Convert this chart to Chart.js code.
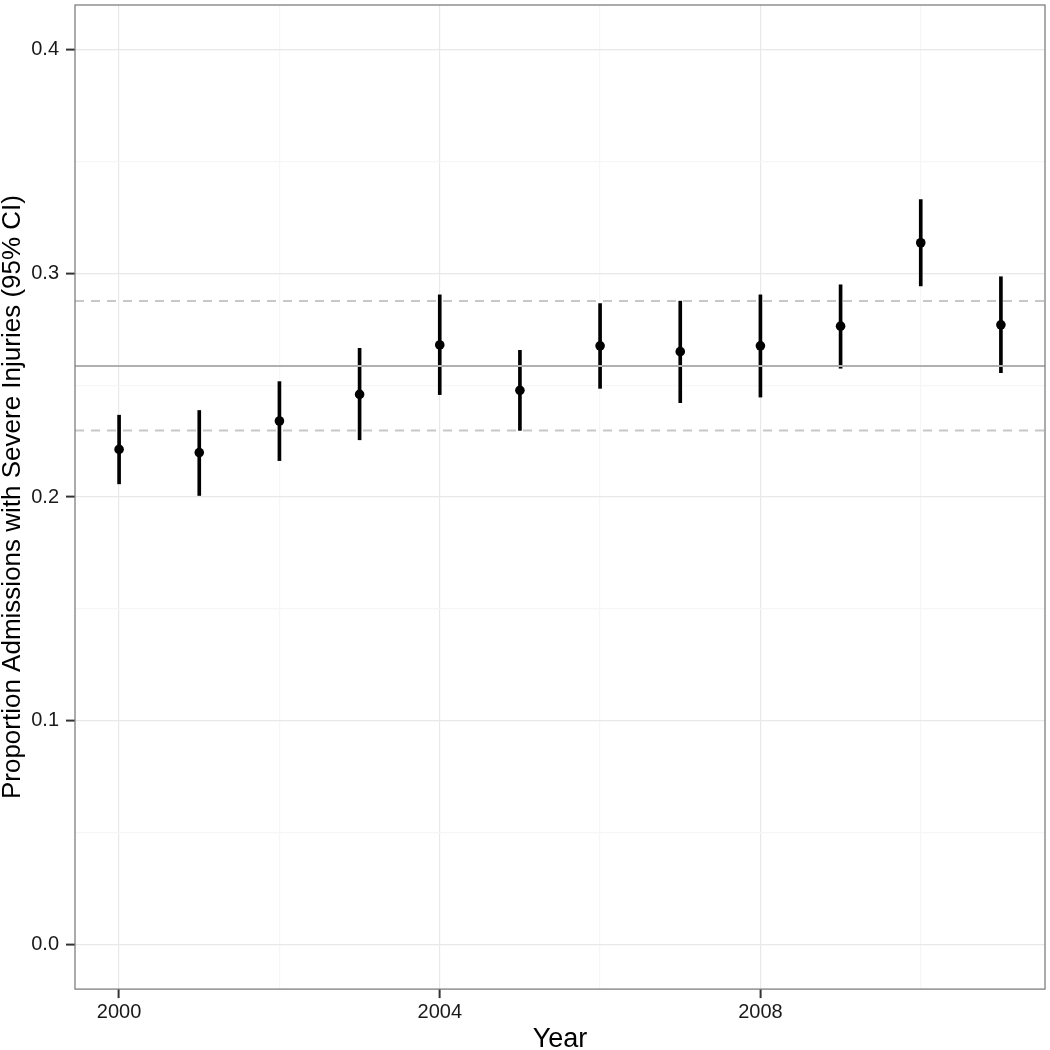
<!DOCTYPE html>
<html>
<head>
<meta charset="utf-8">
<script src="https://cdn.jsdelivr.net/npm/chart.js@4/dist/chart.umd.min.js"></script>
<style>
    html, body { margin: 0; padding: 0; background: #fff; }
    #wrap { width: 1050px; height: 1050px; }
</style>
</head>
<body>
<div id="wrap"><canvas id="chart" width="1050" height="1050"></canvas></div>
<script>
// values
const years = [2000, 2001, 2002, 2003, 2004, 2005, 2006, 2007, 2008, 2009, 2010, 2011];
const proportion = [0.2213, 0.2199, 0.2340, 0.2459, 0.2680, 0.2477, 0.2676, 0.2650, 0.2676, 0.2764, 0.3137, 0.2770];
const ciLower = [0.2059, 0.2007, 0.2163, 0.2256, 0.2458, 0.2298, 0.2486, 0.2422, 0.2447, 0.2576, 0.2944, 0.2556];
const ciUpper = [0.2366, 0.2387, 0.2516, 0.2665, 0.2904, 0.2656, 0.2865, 0.2876, 0.2904, 0.2949, 0.3330, 0.2985];
const overallMean = 0.2586;
const overallLower = 0.2298;
const overallUpper = 0.2876;

const xTickValues = [2000, 2002, 2004, 2006, 2008, 2010];
const xLabelYears = [2000, 2004, 2008];
const yTickValues = [0, 0.05, 0.1, 0.15, 0.2, 0.25, 0.3, 0.35, 0.4];
const yLabelValues = [0, 0.1, 0.2, 0.3, 0.4];
const xLimits = [1999.45, 2011.55];
const yLimits = [-0.02, 0.42];

const FONT = "'Liberation Sans', Arial, Helvetica, sans-serif";
const MAJOR_GRID = '#e8e8e8';
const MINOR_GRID = '#f6f6f6';
const TICK_MARK = '#333333';

const isLabelX = (v) => xLabelYears.includes(v);
const isLabelY = (v) => yLabelValues.some((l) => Math.abs(l - v) < 1e-9);

const hline = (value, dashed, color, width) => ({
    type: 'line',
    data: xLimits.map((x) => ({ x: x, y: value })),
    borderColor: color,
    borderWidth: width,
    borderDash: dashed ? [9, 7] : [],
    pointRadius: 0,
    showLine: true,
    fill: false,
    order: 2,
});

const panelBorder = {
    id: 'panelBorder',
    afterDraw(chart) {
        const { ctx, chartArea } = chart;
        ctx.save();
        ctx.strokeStyle = '#7f7f7f';
        ctx.lineWidth = 1.3;
        ctx.strokeRect(chartArea.left, chartArea.top, chartArea.right - chartArea.left, chartArea.bottom - chartArea.top);
        ctx.restore();
    },
};

const ctx = document.getElementById('chart').getContext('2d');
new Chart(ctx, {
    type: 'scatter',
    data: {
        datasets: [
            hline(overallUpper, true, '#c8c8c8', 2),
            hline(overallLower, true, '#c8c8c8', 2),
            hline(overallMean, false, '#b0b0b0', 2),
            {
                type: 'bar',
                data: years.map((y, i) => ({ x: y, y: [ciLower[i], ciUpper[i]] })),
                backgroundColor: '#000000',
                borderWidth: 0,
                barThickness: 3,
                order: 3,
            },
            {
                type: 'scatter',
                data: years.map((y, i) => ({ x: y, y: proportion[i] })),
                backgroundColor: '#000000',
                borderColor: '#000000',
                pointRadius: 4.8,
                borderWidth: 0,
                order: 1,
            },
        ],
    },
    options: {
        responsive: false,
        animation: false,
        layout: { padding: { top: 5, right: 5, left: 0, bottom: 0 } },
        plugins: {
            legend: { display: false },
            tooltip: { enabled: false },
        },
        scales: {
            x: {
                type: 'linear',
                offset: false,
                min: xLimits[0],
                max: xLimits[1],
                afterBuildTicks: (axis) => {
                    axis.ticks = xTickValues.map((v) => ({ value: v }));
                },
                ticks: {
                    autoSkip: false,
                    maxRotation: 0,
                    padding: 2,
                    color: '#1a1a1a',
                    font: { family: FONT, size: 20 },
                    callback: (v) => (isLabelX(v) ? String(v) : ''),
                },
                grid: {
                    offset: false,
                    color: (c) => (c.tick && isLabelX(c.tick.value) ? MAJOR_GRID : MINOR_GRID),
                    tickColor: (c) => (c.tick && isLabelX(c.tick.value) ? TICK_MARK : 'rgba(0,0,0,0)'),
                    tickLength: 9,
                    lineWidth: 1.2,
                    tickWidth: 2,
                },
                border: { display: false },
                title: {
                    display: true,
                    text: 'Year',
                    color: '#000000',
                    font: { family: FONT, size: 27 },
                    padding: { top: -2.5, bottom: -6 },
                },
            },
            y: {
                type: 'linear',
                min: yLimits[0],
                max: yLimits[1],
                afterBuildTicks: (axis) => {
                    axis.ticks = yTickValues.map((v) => ({ value: v }));
                },
                afterFit: (axis) => {
                    axis.paddingTop = 0;
                    axis.paddingBottom = 0;
                },
                ticks: {
                    autoSkip: false,
                    padding: 7,
                    color: '#1a1a1a',
                    font: { family: FONT, size: 20 },
                    callback: (v) => (isLabelY(v) ? v.toFixed(1) : ''),
                },
                grid: {
                    color: (c) => (c.tick && isLabelY(c.tick.value) ? MAJOR_GRID : MINOR_GRID),
                    tickColor: (c) => (c.tick && isLabelY(c.tick.value) ? TICK_MARK : 'rgba(0,0,0,0)'),
                    tickLength: 9,
                    lineWidth: 1.2,
                    tickWidth: 2,
                },
                border: { display: false },
                title: {
                    display: true,
                    text: 'Proportion Admissions with Severe Injuries (95% CI)',
                    color: '#000000',
                    font: { family: FONT, size: 26 },
                    padding: { top: -3, bottom: -4 },
                },
            },
        },
    },
    plugins: [panelBorder],
});
</script>
</body>
</html>
